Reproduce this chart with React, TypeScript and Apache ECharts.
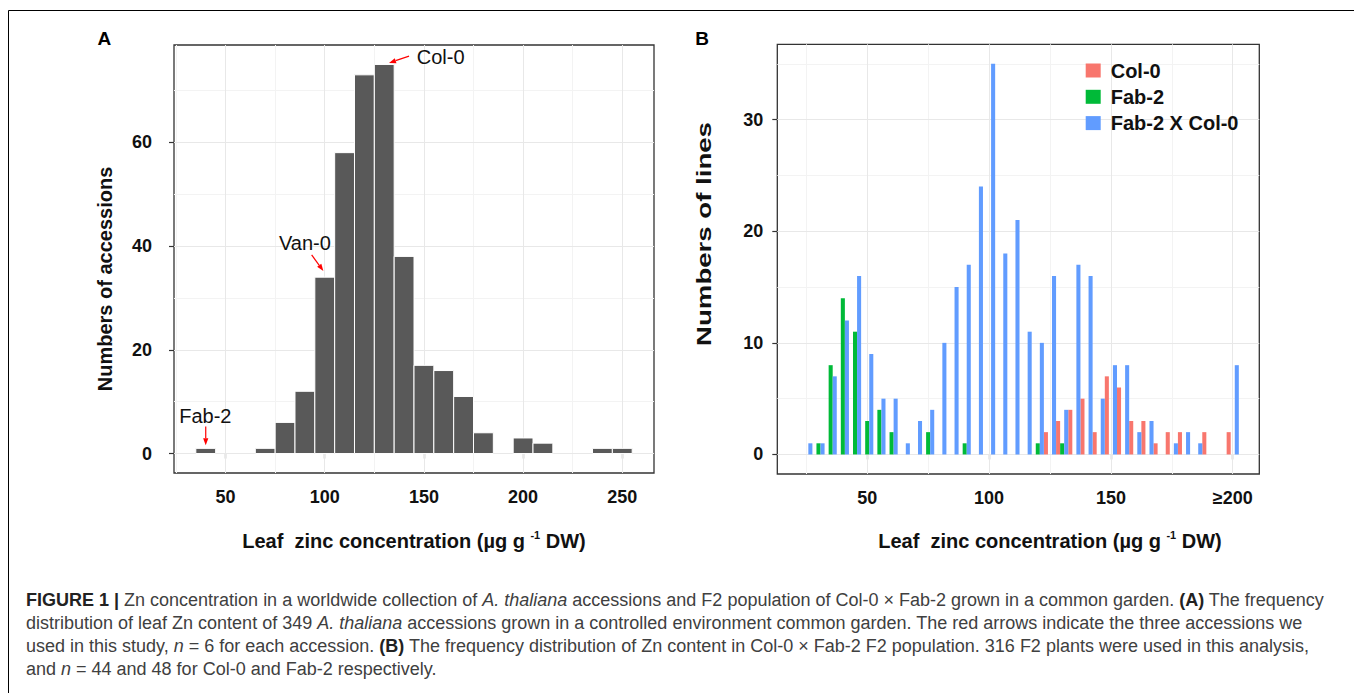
import React, { useEffect, useRef } from "react";
import * as echarts from "echarts";

const FONT = "'Liberation Sans', Arial, Helvetica, sans-serif";

// ---------- Panel A: accessions histogram (bin width 10) ----------
const binsA = [40, 70, 80, 90, 100, 110, 120, 130, 140, 150, 160, 170, 180, 200, 210, 240, 250];
const countsA = [1, 1, 6, 12, 34, 58, 73, 75, 38, 17, 16, 11, 4, 3, 2, 1, 1];
const binWidthA = 10;
const xTicksA = [50, 100, 150, 200, 250];
const xMinorA = [25, 75, 125, 175, 225];
const yTicksA = [0, 20, 40, 60];
const yMinorA = [10, 30, 50, 70];

// annotations (data coordinates of panel A)
const annoNames = ["Col-0", "Van-0", "Fab-2"];
const annoAlign = ["left", "center", "center"];
const annoTextPos = [[146.4, 76.5], [90.0, 40.6], [39.8, 7.3]];
const annoArrowFrom = [[142.5, 76.6], [93.4, 38.3], [40.0, 5.2]];
const annoArrowTo = [[132.4, 75.3], [99.3, 35.2], [40.0, 1.6]];

// ---------- Panel B: Col-0, Fab-2, F2 (bin width 5, dodged) ----------
const binsB = [25, 30, 35, 40, 45, 50, 55, 60, 65, 70, 75, 80, 85, 90, 95, 100, 105, 110, 115, 120,
  125, 130, 135, 140, 145, 150, 155, 160, 165, 170, 175, 180, 185, 190, 195, 200];
const col0 = [0, 0, 0, 0, 0, 0, 0, 0, 0, 0, 0, 0, 0, 0, 0, 0, 0, 0, 0, 0,
  2, 3, 4, 5, 2, 7, 6, 3, 3, 1, 2, 2, 0, 2, 0, 2];
const fab2 = [0, 1, 8, 14, 11, 3, 4, 2, 0, 0, 2, 0, 0, 1, 0, 0, 0, 0, 0, 1,
  0, 1, 0, 0, 0, 0, 0, 0, 0, 0, 0, 0, 0, 0, 0, 0];
const f2 = [1, 1, 7, 12, 16, 9, 5, 5, 1, 3, 4, 10, 15, 17, 24, 35, 18, 21, 11, 10,
  16, 4, 17, 16, 5, 8, 8, 2, 3, 0, 1, 2, 1, 0, 0, 8];
const groupNames = ["Col-0", "Fab-2", "Fab-2 X Col-0"];
const groupColors = ["#F8766D", "#00BA38", "#619CFF"];
const binWidthB = 5;
const xTicksB = [50, 100, 150, 200];
const xTickLabelsB = ["50", "100", "150", "≥200"];
const xMinorB = [25, 75, 125, 175];
const yTicksB = [0, 10, 20, 30];
const yMinorB = [5, 15, 25, 35];

const captionLines = [
  "{b|FIGURE 1 | }{n|Zn concentration in a worldwide collection of }{i|A. thaliana}{n| accessions and F2 population of Col-0 × Fab-2 grown in a common garden. }{b|(A)}{n| The frequency}",
  "{n|distribution of leaf Zn content of 349 }{i|A. thaliana}{n| accessions grown in a controlled environment common garden. The red arrows indicate the three accessions we}",
  "{n|used in this study, }{i|n}{n| = 6 for each accession. }{b|(B)}{n| The frequency distribution of Zn content in Col-0 × Fab-2 F2 population. 316 F2 plants were used in this analysis,}",
  "{n|and }{i|n}{n| = 44 and 48 for Col-0 and Fab-2 respectively.}",
];

function gridLineSeries(idx: number, xMajor: number[], xMinor: number[], yMajor: number[], yMinor: number[]) {
  const major = { color: "#e8e8e8", width: 1, type: "solid" };
  const minor = { color: "#f3f3f3", width: 1, type: "solid" };
  return {
    type: "line",
    xAxisIndex: idx,
    yAxisIndex: idx,
    data: [],
    silent: true,
    markLine: {
      silent: true,
      animation: false,
      z: 1,
      symbol: ["none", "none"],
      label: { show: false },
      emphasis: { disabled: true },
      data: [
        ...xMinor.map((v) => ({ xAxis: v, lineStyle: minor })),
        ...yMinor.map((v) => ({ yAxis: v, lineStyle: minor })),
        ...xMajor.map((v) => ({ xAxis: v, lineStyle: major })),
        ...yMajor.map((v) => ({ yAxis: v, lineStyle: major })),
      ],
    },
  };
}

const tickLabelStyle = { fontSize: 18, fontWeight: "bold", color: "#111", fontFamily: FONT };
const tickStyle = { show: true, length: 5, lineStyle: { color: "#333", width: 1.2 } };

export default function App() {
  const ref = useRef<HTMLDivElement>(null);
  useEffect(() => {
    if (!ref.current) return;
    const chart = echarts.init(ref.current, undefined, { renderer: "svg" });

    const seriesB = groupNames.map((name, k) => ({
      type: "custom",
      name,
      xAxisIndex: 1,
      yAxisIndex: 1,
      z: 3,
      itemStyle: { color: groupColors[k] },
      data: binsB.map((b, i) => [b, [col0, fab2, f2][k][i]]),
      renderItem: (params: any, api: any) => {
        const v = api.value(1);
        if (!v) return null;
        const slot = binWidthB / 3;
        const c = api.value(0) + (k - 1) * slot;
        const p0 = api.coord([c - slot / 2, v]);
        const p1 = api.coord([c + slot / 2, 0]);
        return {
          type: "rect",
          shape: { x: p0[0], y: p0[1], width: p1[0] - p0[0], height: p1[1] - p0[1] },
          style: { fill: api.visual("color") },
        };
      },
    }));

    const option: any = {
      animation: false,
      backgroundColor: "#ffffff",
      grid: [
        { left: 174, top: 45, width: 480, height: 428, show: true, borderColor: "#333", borderWidth: 1.3, backgroundColor: "transparent" },
        { left: 777.3, top: 44.3, width: 482, height: 429.7, show: true, borderColor: "#333", borderWidth: 1.3, backgroundColor: "transparent" },
      ],
      xAxis: [
        {
          type: "value", gridIndex: 0, min: 24, max: 266,
          splitLine: { show: false }, axisLine: { show: false },
          axisTick: { ...tickStyle, customValues: xTicksA },
          axisLabel: { ...tickLabelStyle, margin: 15, customValues: xTicksA,
            formatter: (v: number) => (xTicksA.includes(v) ? String(v) : "") },
        },
        {
          type: "value", gridIndex: 1, min: 13.1, max: 210.9,
          splitLine: { show: false }, axisLine: { show: false },
          axisTick: { ...tickStyle, customValues: xTicksB },
          axisLabel: { ...tickLabelStyle, margin: 15, customValues: xTicksB,
            formatter: (v: number) => { const i = xTicksB.indexOf(v); return i >= 0 ? xTickLabelsB[i] : ""; } },
        },
      ],
      yAxis: [
        {
          type: "value", gridIndex: 0, min: -3.75, max: 78.75,
          splitLine: { show: false }, axisLine: { show: false },
          axisTick: { ...tickStyle, customValues: yTicksA },
          axisLabel: { ...tickLabelStyle, margin: 22, customValues: yTicksA,
            formatter: (v: number) => (yTicksA.includes(v) ? String(v) : "") },
        },
        {
          type: "value", gridIndex: 1, min: -1.75, max: 36.75,
          splitLine: { show: false }, axisLine: { show: false },
          axisTick: { ...tickStyle, customValues: yTicksB },
          axisLabel: { ...tickLabelStyle, margin: 14, customValues: yTicksB,
            formatter: (v: number) => (yTicksB.includes(v) ? String(v) : "") },
        },
      ],
      legend: {
        data: groupNames,
        orient: "vertical",
        left: 1085.7,
        top: 60.5,
        padding: 0,
        itemWidth: 15,
        itemHeight: 14,
        itemGap: 6.3,
        icon: "rect",
        selectedMode: false,
        textStyle: { fontSize: 20, fontWeight: "bold", color: "#111", fontFamily: FONT, padding: [0, 0, 0, 5] },
      },
      series: [
        gridLineSeries(0, xTicksA, xMinorA, yTicksA, yMinorA),
        gridLineSeries(1, xTicksB, xMinorB, yTicksB, yMinorB),
        {
          type: "custom",
          name: "accessions",
          xAxisIndex: 0,
          yAxisIndex: 0,
          z: 3,
          data: binsA.map((b, i) => [b, countsA[i]]),
          renderItem: (params: any, api: any) => {
            const c = api.value(0);
            const v = api.value(1);
            const p0 = api.coord([c - binWidthA / 2, v]);
            const p1 = api.coord([c + binWidthA / 2, 0]);
            return {
              type: "rect",
              shape: { x: p0[0], y: p0[1], width: p1[0] - p0[0], height: p1[1] - p0[1] },
              style: { fill: "#595959", stroke: "#ffffff", lineWidth: 1 },
            };
          },
        },
        {
          type: "custom",
          name: "annotations",
          xAxisIndex: 0,
          yAxisIndex: 0,
          z: 4,
          silent: true,
          data: annoNames.map((n, i) => [...annoTextPos[i], ...annoArrowFrom[i], ...annoArrowTo[i]]),
          renderItem: (params: any, api: any) => {
            const i = params.dataIndex;
            const t = api.coord([api.value(0), api.value(1)]);
            const a = api.coord([api.value(2), api.value(3)]);
            const b = api.coord([api.value(4), api.value(5)]);
            const dx = b[0] - a[0], dy = b[1] - a[1];
            const len = Math.hypot(dx, dy) || 1;
            const ux = dx / len, uy = dy / len;
            const head = 7, hw = 2.6;
            const base = [b[0] - ux * head, b[1] - uy * head];
            return {
              type: "group",
              children: [
                {
                  type: "text",
                  style: { text: annoNames[i], x: t[0], y: t[1], fontSize: 20, fontFamily: FONT, fill: "#111",
                    align: annoAlign[i], verticalAlign: "middle" },
                },
                { type: "line", shape: { x1: a[0], y1: a[1], x2: base[0], y2: base[1] }, style: { stroke: "#ff0000", lineWidth: 1.2 } },
                {
                  type: "polygon",
                  shape: { points: [b, [base[0] - uy * hw, base[1] + ux * hw], [base[0] + uy * hw, base[1] - ux * hw]] },
                  style: { fill: "#ff0000" },
                },
              ],
            };
          },
        },
        ...seriesB,
      ],
      graphic: [
        { type: "rect", shape: { x: 8.5, y: 10.5, width: 1360, height: 700 }, style: { fill: "none", stroke: "#000", lineWidth: 1 }, silent: true },
        { type: "text", x: 104.3, y: 38.5, style: { text: "A", fontSize: 19, fontWeight: "bold", fontFamily: FONT, fill: "#000", align: "center", verticalAlign: "middle" } },
        { type: "text", x: 702, y: 38.5, style: { text: "B", fontSize: 19, fontWeight: "bold", fontFamily: FONT, fill: "#000", align: "center", verticalAlign: "middle" } },
        { type: "text", x: 105, y: 279, rotation: Math.PI / 2, style: { text: "Numbers of accessions", fontSize: 20, fontWeight: "bold", fontFamily: FONT, fill: "#111", align: "center", verticalAlign: "middle" } },
        { type: "text", x: 704, y: 234, rotation: Math.PI / 2, scaleX: 1.38, style: { text: "Numbers of lines", fontSize: 20, fontWeight: "bold", fontFamily: FONT, fill: "#111", align: "center", verticalAlign: "middle" } },
        ...[414, 1050].map((cx) => ({
          type: "text", x: cx, y: 541,
          style: {
            text: "{m|Leaf  zinc concentration (µg g }{s|-1}{m| DW)}",
            align: "center", verticalAlign: "middle",
            rich: {
              m: { fontSize: 20, fontWeight: "bold", fontFamily: FONT, fill: "#111", lineHeight: 24 },
              s: { fontSize: 11, fontWeight: "bold", fontFamily: FONT, fill: "#111", lineHeight: 19, verticalAlign: "top" },
            },
          },
        })),
        ...captionLines.map((line, i) => ({
          type: "text", x: 26, y: 600 + i * 23,
          style: {
            text: line, align: "left", verticalAlign: "middle",
            rich: {
              n: { fontSize: 18, fontFamily: FONT, fill: "#404040" },
              i: { fontSize: 18, fontFamily: FONT, fontStyle: "italic", fill: "#404040" },
              b: { fontSize: 18, fontFamily: FONT, fontWeight: "bold", fill: "#222" },
            },
          },
        })),
      ],
    };
    chart.setOption(option);
    return () => chart.dispose();
  }, []);
  return (
    <div
      ref={ref}
      style={{ position: "absolute", left: 0, top: 0, width: 1354, height: 693, background: "#fff" }}
    />
  );
}
